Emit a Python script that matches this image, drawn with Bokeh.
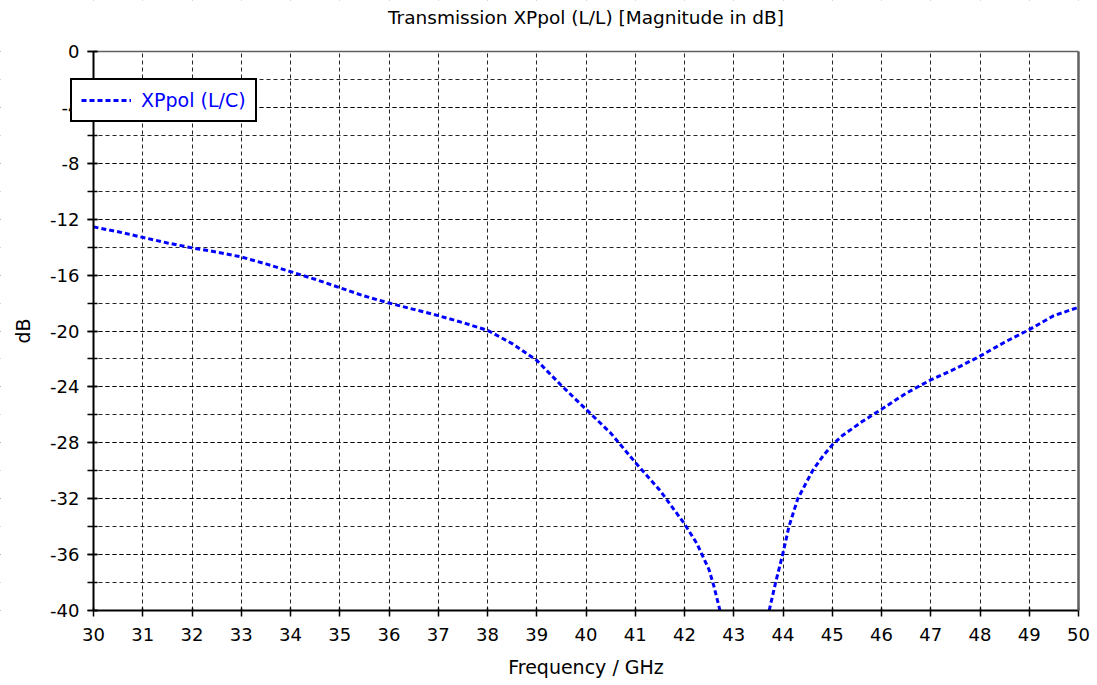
from bokeh.plotting import figure
from bokeh.models import (FixedTicker, Legend, LegendItem, Range1d, LinearAxis,
                          BoxAnnotation, Label)
from bokeh.embed import file_html
from bokeh.resources import INLINE

NaN = float("nan")

# Data (values below -40 dB are off the chart)
freq = [30.0, 30.5, 31.0, 31.5, 32.0, 32.5, 33.0, 33.5, 34.0, 34.5, 35.0, 35.5,
        36.0, 36.5, 37.0, 37.5, 38.0, 38.5, 39.0, 39.5, 40.0, 40.5, 41.0, 41.5,
        42.0, 42.25, 42.5, 42.6, 42.72, 43.2, 43.72, 43.85, 44.0,
        44.12, 44.3, 44.6, 44.8, 45.0, 45.2, 45.4, 45.6, 45.8, 46.0, 46.5, 47.0,
        47.5, 48.0, 48.5, 49.0, 49.5, 50.0]
xppol = [-12.55, -12.9, -13.3, -13.7, -14.05, -14.35, -14.7, -15.2, -15.75, -16.3,
         -16.9, -17.5, -18.0, -18.45, -18.9, -19.4, -19.95, -20.9, -22.1, -23.9,
         -25.6, -27.3, -29.4, -31.4, -33.8, -35.2, -37.1, -38.3, -40.0, NaN,
         -40.0, -38.0, -35.9, -34.0, -32.0, -30.0, -29.0, -28.15,
         -27.5, -27.0, -26.5, -26.05, -25.6, -24.45, -23.5, -22.7, -21.8, -20.8,
         -19.9, -18.9, -18.3]

x_ticks = list(range(30, 51))
y_major_ticks = list(range(-40, 1, 4))
y_minor_ticks = list(range(-40, 1, 2))
y_tick_labels = {t: str(t) for t in y_major_ticks}

title_text = "Transmission XPpol (L/L) [Magnitude in dB]"
x_label = "Frequency / GHz"
y_label = "dB"
series_name = "XPpol (L/C)"

FONT = "DejaVu Sans"
X_MIN, X_MAX = 30, 50
Y_MIN, Y_MAX = -40, 0

# Layout (pixels): the visible plot box spans x 93..1078 and y 51..610;
# the Bokeh frame covers the whole canvas so nothing gets clipped.
W, H = 1090, 680
BOX_L, BOX_R, BOX_T, BOX_B = 93, 1078, 51, 610
TITLE_BASELINE = 17
px_per_x = (BOX_R - BOX_L) / (X_MAX - X_MIN)
px_per_y = (BOX_B - BOX_T) / (Y_MAX - Y_MIN)
x_range = Range1d(X_MIN - BOX_L / px_per_x, X_MAX + (W - BOX_R) / px_per_x)
y_range = Range1d(Y_MIN - (H - BOX_B) / px_per_y, Y_MAX + BOX_T / px_per_y)

p = figure(width=W, height=H, output_backend="svg", toolbar_location=None,
           x_range=x_range, y_range=y_range, title=None,
           min_border_left=0, min_border_right=0, min_border_top=0,
           min_border_bottom=0, background_fill_color="white",
           border_fill_color="white")

p.outline_line_color = None

# Bottom axis
xa = p.below[0]
xa.fixed_location = Y_MIN
xa.bounds = (X_MIN, X_MAX)
xa.ticker = FixedTicker(ticks=x_ticks)
xa.axis_line_color = "black"
xa.axis_line_width = 2
xa.major_tick_line_color = "black"
xa.major_tick_line_width = 1.5
xa.major_tick_in = 3
xa.major_tick_out = 6
xa.minor_tick_line_color = None
xa.major_label_standoff = 11
xa.major_label_text_font = FONT
xa.major_label_text_font_size = "18px"
xa.major_label_text_color = "#000000"
xa.axis_label = x_label
xa.axis_label_standoff = 12
xa.axis_label_text_font = FONT
xa.axis_label_text_font_size = "19px"
xa.axis_label_text_font_style = "normal"
xa.axis_label_text_color = "#000000"

# Left axis
ya = p.left[0]
ya.fixed_location = X_MIN
ya.bounds = (Y_MIN, Y_MAX)
ya.ticker = FixedTicker(ticks=y_major_ticks, minor_ticks=y_minor_ticks)
ya.major_label_overrides = y_tick_labels
ya.axis_line_color = "black"
ya.axis_line_width = 2
ya.major_tick_line_color = "black"
ya.major_tick_line_width = 1.5
ya.minor_tick_line_color = "black"
ya.minor_tick_line_width = 1.5
ya.major_tick_in = 4
ya.major_tick_out = 6
ya.minor_tick_in = 4
ya.minor_tick_out = 6
ya.major_label_standoff = 8
ya.major_label_text_font = FONT
ya.major_label_text_font_size = "18px"
ya.major_label_text_color = "#000000"
ya.axis_label = y_label
ya.axis_label_standoff = 13
ya.axis_label_text_font = FONT
ya.axis_label_text_font_size = "19px"
ya.axis_label_text_font_style = "normal"
ya.axis_label_text_color = "#000000"


def border_axis(width, **kw):
    return LinearAxis(ticker=FixedTicker(ticks=[]), axis_line_color="#606060",
                      axis_line_width=width, major_tick_line_color=None,
                      minor_tick_line_color=None, major_tick_in=0,
                      major_tick_out=0, minor_tick_in=0, minor_tick_out=0, **kw)


p.add_layout(border_axis(1.5, fixed_location=Y_MAX, bounds=(X_MIN, X_MAX)), "above")
p.add_layout(border_axis(2.5, fixed_location=X_MAX, bounds=(Y_MIN, Y_MAX)), "right")

# Grid
for g in (p.xgrid, p.ygrid):
    g.grid_line_color = "black"
    g.grid_line_dash = "4 3"
    g.grid_line_width = 1
    g.grid_line_alpha = 0.85
p.xgrid.ticker = FixedTicker(ticks=x_ticks)
p.ygrid.ticker = FixedTicker(ticks=y_major_ticks, minor_ticks=y_minor_ticks)
p.ygrid.minor_grid_line_color = "black"
p.ygrid.minor_grid_line_dash = "4 3"
p.ygrid.minor_grid_line_width = 1
p.ygrid.minor_grid_line_alpha = 0.85

# White masks outside the plot box (hide grid lines there)
for kw in (dict(right=X_MIN), dict(left=X_MAX), dict(bottom=Y_MAX), dict(top=Y_MIN)):
    p.add_layout(BoxAnnotation(fill_color="white", fill_alpha=1.0,
                               line_color=None, level="underlay", **kw))

# Title, centred over the plot box
p.add_layout(Label(x=(X_MIN + X_MAX) / 2,
                   y=Y_MAX + (BOX_T - TITLE_BASELINE) / px_per_y,
                   text=title_text, text_align="center",
                   text_baseline="alphabetic", text_font=FONT,
                   text_font_size="18.5px", text_color="#000000"))

r = p.line(freq, xppol, line_color="#0000ff", line_width=3, line_dash="5 3")

legend = Legend(items=[LegendItem(label=series_name, renderers=[r])],
                location=(70, H - 122), margin=0, padding=9, spacing=0,
                glyph_width=50, glyph_height=20, label_standoff=10,
                label_text_font=FONT, label_text_font_size="19px",
                label_text_color="#0000ff", border_line_color="black",
                border_line_alpha=1.0, border_line_width=2.5,
                background_fill_color="white", background_fill_alpha=1.0)
p.add_layout(legend, "center")

open("out.html", "w").write(file_html(p, INLINE))
